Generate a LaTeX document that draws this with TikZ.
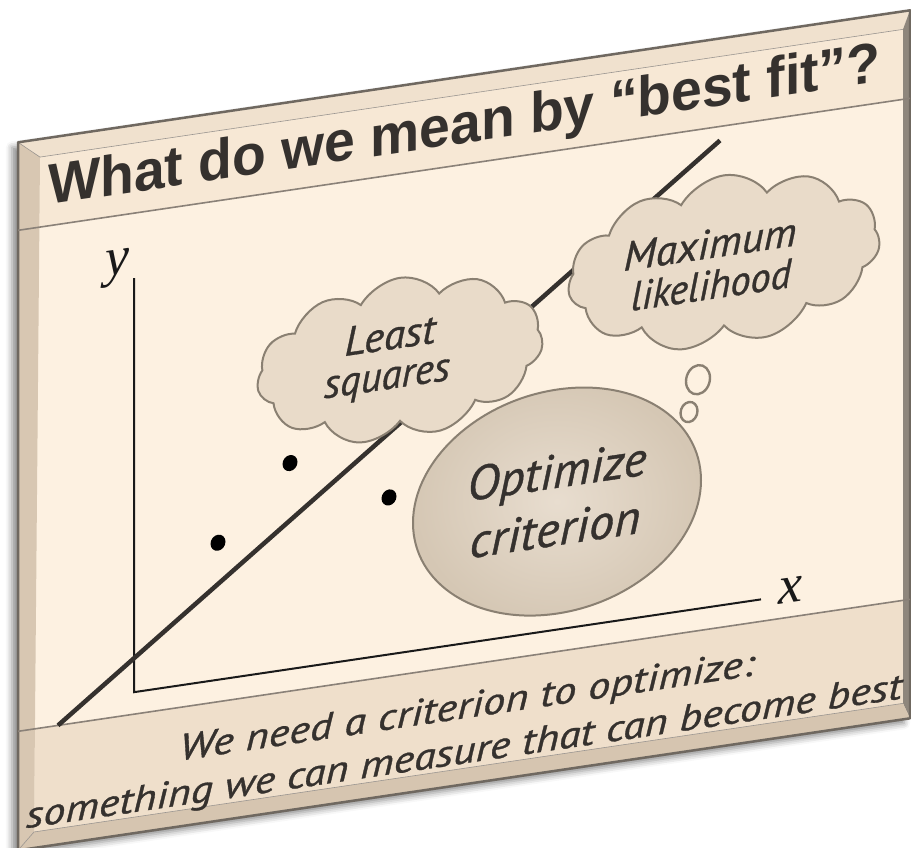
\documentclass[tikz,border=0pt]{standalone}
\usepackage{fontspec}
\usepackage{graphicx}
\usetikzlibrary{shapes.symbols,shapes.geometric,shadows.blur}
\setmainfont{Liberation Sans}
\newfontfamily\handfont{PT Sans}[ItalicFeatures={FakeBold=0.8}]
\newfontfamily\titlefont{Liberation Sans}
\newfontfamily\axisfont{Liberation Serif}
\newcommand{\fitto}[2]{\resizebox{#1}{\height}{#2}}
\definecolor{facec}{HTML}{FDF1E1}
\definecolor{titlebandc}{HTML}{F7E8D5}
\definecolor{botbandc}{HTML}{EFDFCB}
\definecolor{topbevelc}{HTML}{F0E1CE}
\definecolor{leftstripc}{HTML}{D8C7B2}
\definecolor{rightstripc}{HTML}{8E867C}
\definecolor{botbevelc}{HTML}{D6C5B0}
\definecolor{outlinec}{HTML}{6F6860}
\definecolor{sepc}{HTML}{8A8178}
\definecolor{inkc}{HTML}{35312E}
\definecolor{cloudfillc}{HTML}{E9DBC9}
\definecolor{cloudlinec}{HTML}{8A8072}
\definecolor{ellinc}{HTML}{E8DDCF}
\definecolor{elloutc}{HTML}{D5C7B4}
\begin{document}
\begin{tikzpicture}[x=1pt,y=-1pt,
  handtext/.style={inner sep=0pt, text=inkc, font=\handfont\itshape\fontsize{41}{43}\selectfont},
  bigtext/.style={inner sep=0pt, text=inkc, font=\handfont\itshape\fontsize{48}{50}\selectfont},
  bottext/.style={inner sep=0pt, text=inkc, font=\handfont\itshape\fontsize{37}{39}\selectfont, anchor=base},
  thought/.style={cloud, cloud puffs=11, cloud puff arc=115, cloud ignores aspect, draw=cloudlinec, line width=2pt, fill=cloudfillc, inner sep=0pt},
  bubble/.style={ellipse, draw=cloudlinec, line width=2.4pt, fill=facec, inner sep=0pt},
  datadot/.style={ellipse, fill=black, minimum width=15pt, minimum height=16pt, inner sep=0pt},
  axisline/.style={line width=2pt, draw=black!90},
  axislabel/.style={inner sep=0pt, font=\axisfont\itshape\fontsize{54}{56}\selectfont, text=black!90, anchor=base},
  sepline/.style={draw=sepc, line width=1.6pt}
]
\useasboundingbox (0,0) rectangle (911,848);
\begin{scope}[yslant=0.148, transform shape]
  % board with shadow
  \path[fill=facec, blur shadow={shadow xshift=-6pt, shadow yshift=-5pt, shadow blur radius=6pt, shadow opacity=45}]
    (18,145) -- (910,145) -- (910,853) -- (18,853) -- cycle;
  % bands
  \fill[titlebandc] (40,163) -- (903,163) -- (903,233) -- (39.4,233) -- cycle;
  \fill[botbandc] (34.9,734) -- (903,734) -- (903,837) -- (34,837) -- cycle;
  % bevels
  \fill[topbevelc] (18,145) -- (910,145) -- (903,163) -- (40,163) -- cycle;
  \fill[leftstripc] (18,145) -- (40,163) -- (34,837) -- (18,853) -- cycle;
  \fill[rightstripc] (910,145) -- (910,853) -- (903,837) -- (903,163) -- cycle;
  \fill[botbevelc] (18,853) -- (910,853) -- (903,837) -- (34,837) -- cycle;
  \draw[outlinec!70, line width=0.6pt] (40,163) -- (903,163) (18,145) -- (40,163) (34,837) -- (18,853) (903,837) -- (34,837);
  \draw[outlinec, line width=2.5pt, line join=round] (18,145) -- (910,145) -- (910,853) -- (18,853) -- cycle;
  % separators
  \draw[sepline] (18,233) -- (910,233);
  \draw[sepline] (18,734) -- (910,734);

  % title
  \node[anchor=base west, inner sep=0pt, text=inkc,
        font=\titlefont\bfseries\fontsize{57}{60}\selectfont] (title) at (48,212)
        {\fitto{832pt}{What do we mean by “best fit”?}};

  % axes
  \coordinate (O) at (134,712);
  \coordinate (ytop) at (134,298);
  \coordinate (xend) at (761,712);
  \draw[axisline] (ytop) -- (O) -- (xend);
  \node[axislabel] (ylab) at (117,292) {y};
  \node[axislabel] (xlab) at (790,720) {x};

  % fit line
  \coordinate (fitA) at (58,734);
  \coordinate (fitB) at (720,247);
  \draw[line width=4.5pt, draw=inkc] (fitA) -- (fitB);

  % data points
  \node[datadot] (p1) at (290,506) {};
  \node[datadot] (p2) at (389,555) {};
  \node[datadot] (p3) at (218,575) {};

  % clouds
  \node[thought, minimum width=286pt, minimum height=162pt] (ls) at (400,418) {};
  \node[thought, minimum width=312pt, minimum height=171pt] (ml) at (724,368) {};
  \node[handtext] (lsa) at (390,393) {\fitto{91pt}{Least}};
  \node[handtext] (lsb) at (387,440) {\fitto{126pt}{squares}};
  \node[handtext] (mla) at (710,349) {\fitto{173pt}{Maximum}};
  \node[handtext] (mlb) at (711,390) {\fitto{160pt}{likelihood}};

  % thought bubbles
  \node[bubble, minimum width=24pt, minimum height=29pt] (b1) at (698,483) {};
  \node[bubble, minimum width=17pt, minimum height=20pt] (b2) at (689,514) {};

  % optimize ellipse
  \node[ellipse, draw=cloudlinec, line width=2pt, inner color=ellinc, outer color=elloutc,
        minimum width=288pt, minimum height=224pt, inner sep=0pt] (opt) at (557,584) {};
  \node[bigtext] (opta) at (557,558) {\fitto{179pt}{Optimize}};
  \node[bigtext] (optb) at (555,611) {\fitto{171pt}{criterion}};

  % bottom text
  \node[bottext] (bot1) at (467,787) {\fitto{575pt}{We need a criterion to optimize:}};
  \node[bottext] (bot2) at (464,832) {\fitto{876pt}{something we can measure that can become best}};
\end{scope}
\end{tikzpicture}
\end{document}
